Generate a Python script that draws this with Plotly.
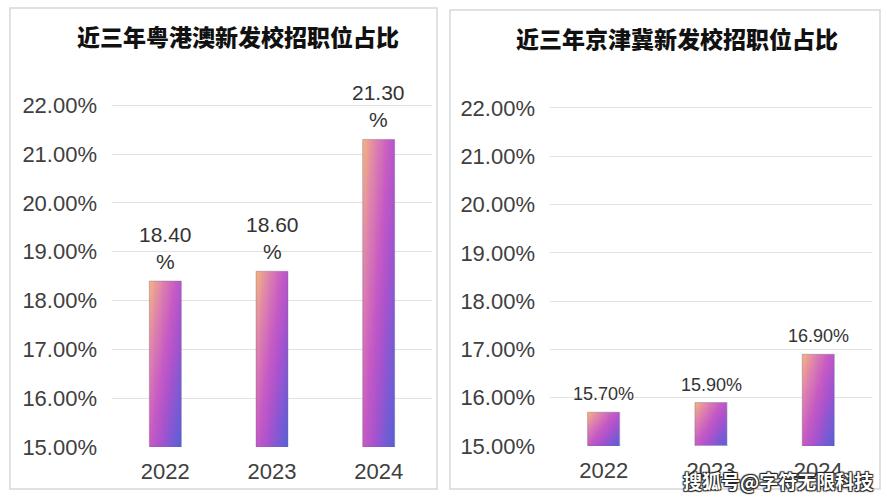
import numpy as np
import plotly.graph_objects as go

years = ["2022", "2023", "2024"]
gba_share = [18.40, 18.60, 21.30]      # 粤港澳
jjj_share = [15.70, 15.90, 16.90]      # 京津冀
y_ticks = [15, 16, 17, 18, 19, 20, 21, 22]
titles = ["近三年粤港澳新发校招职位占比", "近三年京津冀新发校招职位占比"]
watermark = "搜狐号@字符无限科技"

W, H = 887, 500
BASE = 15.0
HALF = 0.15

# diagonal gradient colours (top-left peach -> magenta -> bottom-right blue)
bar_scale = [[0.0, "#F3B47E"], [0.22, "#DE82AE"], [0.45, "#C65AC5"],
             [0.63, "#A853CD"], [0.8, "#7E5AD4"], [1.0, "#5560D6"]]

fig = go.Figure()


def add_bars(values, xa, ya, nx=12, ny=48):
    for i, v in enumerate(values):
        xe = np.linspace(i - HALF, i + HALF, nx + 1)
        ye = np.linspace(BASE, v, ny + 1)
        u = (np.arange(nx) + 0.5) / nx                 # 0 left .. 1 right
        w = 1 - (np.arange(ny) + 0.5) / ny             # 0 top .. 1 bottom
        z = 0.55 * u[None, :] + 0.45 * w[:, None]
        fig.add_trace(go.Heatmap(
            x=xe, y=ye, z=z, zmin=0, zmax=1, colorscale=bar_scale, zsmooth="best",
            showscale=False, hoverinfo="skip", xaxis=xa, yaxis=ya))
        fig.add_trace(go.Scatter(
            x=[i - HALF, i + HALF, i + HALF, i - HALF, i - HALF],
            y=[v, v, BASE, BASE, v], mode="lines",
            line=dict(width=0.8, color="rgba(110,100,135,0.45)"),
            hoverinfo="skip", showlegend=False, xaxis=xa, yaxis=ya))


add_bars(gba_share, "x", "y")
add_bars(jjj_share, "x2", "y2")

tick_font = dict(family="Liberation Sans, Arial, sans-serif", size=22, color="#404040")
axis_common = dict(showline=False, zeroline=False, fixedrange=True, automargin=False)

fig.update_layout(
    width=W, height=H, margin=dict(l=0, r=0, t=0, b=0),
    paper_bgcolor="white", plot_bgcolor="white", showlegend=False,
    xaxis=dict(domain=[112 / W, 432 / W], range=[-0.5, 2.5], tickvals=[0, 1, 2],
               ticktext=years, tickfont=tick_font, showgrid=False, ticks="",
               ticklabelstandoff=9, **axis_common),
    yaxis=dict(domain=[(H - 447) / H, (H - 76) / H], range=[BASE, 22.6], tickvals=y_ticks,
               ticktext=["%.2f%%" % t for t in y_ticks], tickfont=tick_font,
               showgrid=True, gridcolor="#e2e2e2", gridwidth=1, ticks="", ticklabelstandoff=14,
               **axis_common),
    xaxis2=dict(domain=[550 / W, 872 / W], range=[-0.5, 2.5], tickvals=[0, 1, 2],
                ticktext=years, tickfont=tick_font, showgrid=False, ticks="", anchor="y2",
                ticklabelstandoff=9, **axis_common),
    yaxis2=dict(domain=[(H - 446) / H, (H - 79) / H], range=[BASE, 22.6], tickvals=y_ticks,
                ticktext=["%.2f%%" % t for t in y_ticks], tickfont=tick_font, anchor="x2",
                showgrid=True, gridcolor="#e2e2e2", gridwidth=1, ticks="", ticklabelstandoff=14,
                **axis_common),
)

# panel borders
fig.add_shape(type="rect", xref="paper", yref="paper", x0=10 / W, x1=437 / W,
              y0=(H - 489) / H, y1=(H - 8) / H, line=dict(color="#d8d8d8", width=1.5), layer="below")
fig.add_shape(type="rect", xref="paper", yref="paper", x0=450 / W, x1=880 / W,
              y0=(H - 489) / H, y1=(H - 10) / H, line=dict(color="#d8d8d8", width=1.5), layer="below")

# titles
title_font = dict(family="Noto Sans CJK SC", size=23, color="#111111", weight=900)
fig.add_annotation(text=titles[0], xref="paper", yref="paper", xanchor="center", yanchor="middle",
                   x=238 / W, y=(H - 36) / H, showarrow=False, font=title_font)
fig.add_annotation(text=titles[1], xref="paper", yref="paper", xanchor="center", yanchor="middle",
                   x=677 / W, y=(H - 38) / H, showarrow=False, font=title_font)

# value labels
lab_font_l = dict(family="Liberation Sans, Arial, sans-serif", size=21, color="#333333")
lab_font_r = dict(family="Liberation Sans, Arial, sans-serif", size=18, color="#333333")
for i, v in enumerate(gba_share):
    fig.add_annotation(x=i, y=v, xref="x", yref="y", text="%.2f<br>%%" % v,
                       showarrow=False, yanchor="bottom", yshift=6, font=lab_font_l)
for i, v in enumerate(jjj_share):
    fig.add_annotation(x=i, y=v, xref="x2", yref="y2", text="%.2f%%" % v,
                       showarrow=False, yanchor="bottom", yshift=6, font=lab_font_r)

# watermark
fig.add_annotation(text=watermark, xref="paper", yref="paper", x=778 / W, y=(H - 480) / H,
                   xanchor="center", yanchor="middle", showarrow=False,
                   font=dict(family="Noto Sans CJK SC", size=19, color="white", weight=700,
                             shadow="1px 1px 1px #222, -1px -1px 1px #222, 1px -1px 1px #222, -1px 1px 1px #222"))

fig.write_html("out.html")
